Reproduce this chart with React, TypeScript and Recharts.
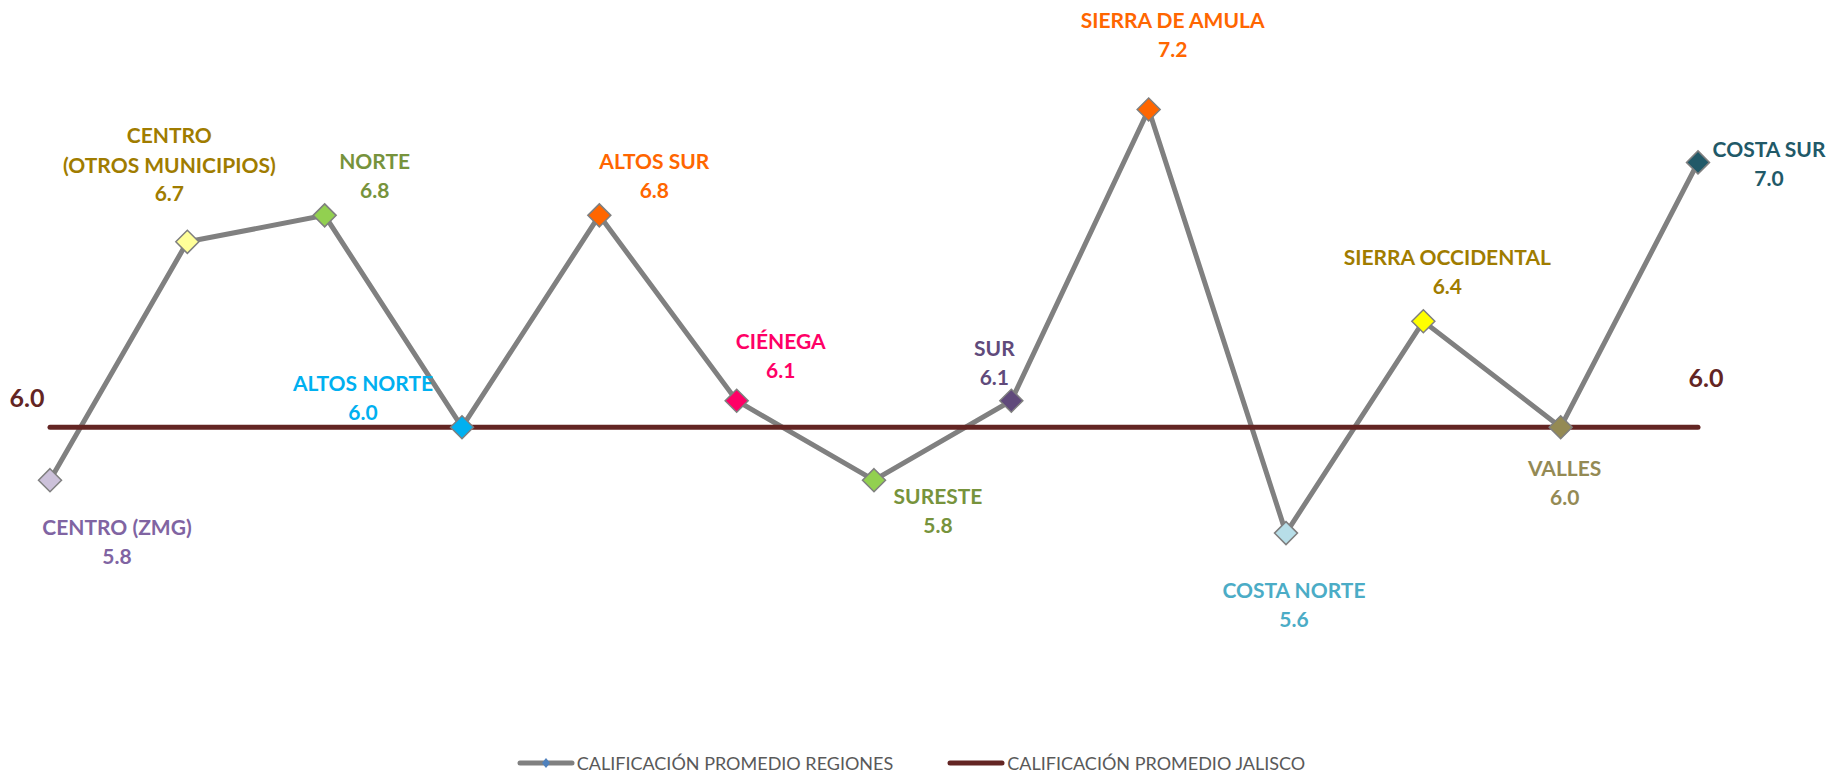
import { LineChart, Line, XAxis, YAxis, Legend } from 'recharts'

document.body.style.margin = '0'

const regiones = [
  'CENTRO (ZMG)',
  'CENTRO\n(OTROS MUNICIPIOS)',
  'NORTE',
  'ALTOS NORTE',
  'ALTOS SUR',
  'CIÉNEGA',
  'SURESTE',
  'SUR',
  'SIERRA DE AMULA',
  'COSTA NORTE',
  'SIERRA OCCIDENTAL',
  'VALLES',
  'COSTA SUR',
]
const calificacionRegiones = [5.8, 6.7, 6.8, 6.0, 6.8, 6.1, 5.8, 6.1, 7.2, 5.6, 6.4, 6.0, 7.0]
const calificacionJalisco = 6.0

// label text colour and marker fill per region
const textColors = [
  '#8064A2', '#A07C00', '#77933C', '#00B0F0', '#FF6600', '#FF0066', '#77933C',
  '#604A7B', '#FF6600', '#4BACC6', '#A07C00', '#948A54', '#215968',
]
const markerColors = [
  '#CCC1DA', '#FFFF99', '#92D050', '#00B0F0', '#FF6600', '#FF0066', '#92D050',
  '#604A7B', '#FF6600', '#B7DEE8', '#FFFF00', '#948A54', '#215968',
]
// label offset from the point [dx, dy of first line]
const labelOffsets = [
  [67, 46], [-18, -107], [50, -55], [-99, -45], [55, -55], [44, -60], [64, 15],
  [-17, -53], [24, -90], [8, 56], [24, -65], [4, 40], [71, -14],
]

const data = regiones.map((r, i) => ({
  region: r,
  regiones: calificacionRegiones[i],
  jalisco: calificacionJalisco,
}))

const FONT = 'Lato, "Open Sans", sans-serif'

const RegionDot = (props: any) => {
  const { cx, cy, index } = props
  if (cx == null || cy == null) return <g key={index} />
  const r = 11.5
  const [dx, dy] = labelOffsets[index]
  const lines = regiones[index].split('\n')
  const color = textColors[index]
  return (
    <g key={index}>
      <path
        d={`M${cx},${cy - r} L${cx + r},${cy} L${cx},${cy + r} L${cx - r},${cy} Z`}
        fill={markerColors[index]}
        stroke="#7F7F7F"
        strokeWidth={1.5}
      />
      {lines.map((l, j) => (
        <text key={j} x={cx + dx} y={cy + dy + j * 30} textAnchor="middle" dominantBaseline="central"
          fill={color} fontFamily={FONT} fontWeight={700} fontSize={21}>{l}</text>
      ))}
      <text x={cx + dx} y={cy + dy + lines.length * 29} textAnchor="middle" dominantBaseline="central"
        fill={color} fontFamily={FONT} fontWeight={700} fontSize={21}>
        {calificacionRegiones[index].toFixed(1)}
      </text>
    </g>
  )
}

const JaliscoDot = (props: any) => {
  const { cx, cy, index } = props
  const last = regiones.length - 1
  if (cx == null || (index !== 0 && index !== last)) return <g key={index} />
  const [dx, dy] = index === 0 ? [-23, -30] : [8, -50]
  return (
    <text key={index} x={cx + dx} y={cy + dy} textAnchor="middle" dominantBaseline="central"
      fill="#632523" fontFamily={FONT} fontWeight={700} fontSize={25}>
      {calificacionJalisco.toFixed(1)}
    </text>
  )
}

const renderLegend = () => (
  <div style={{ display: 'flex', justifyContent: 'center', gap: 54, fontFamily: FONT, fontSize: 18, color: '#595959' }}>
    <div style={{ display: 'flex', alignItems: 'center' }}>
      <svg width={58} height={14}>
        <line x1={3} y1={7} x2={55} y2={7} stroke="#808080" strokeWidth={5} strokeLinecap="round" />
        <path d="M29,2 L33,7 L29,12 L25,7 Z" fill="#4F81BD" />
      </svg>
      <span style={{ marginLeft: 2 }}>CALIFICACIÓN PROMEDIO REGIONES</span>
    </div>
    <div style={{ display: 'flex', alignItems: 'center' }}>
      <svg width={58} height={14}>
        <line x1={3} y1={7} x2={55} y2={7} stroke="#632523" strokeWidth={5} strokeLinecap="round" />
      </svg>
      <span style={{ marginLeft: 2 }}>CALIFICACIÓN PROMEDIO JALISCO</span>
    </div>
  </div>
)

export default function App() {
  return (
    <div style={{ width: 1830, height: 776, background: '#fff' }}>
      <LineChart width={1830} height={776} data={data} margin={{ top: 30, right: 132, bottom: 60, left: 50 }}>
        <XAxis dataKey="region" hide />
        <YAxis hide domain={[5, 7.5]} />
        <Legend verticalAlign="bottom" height={24} content={renderLegend}
          wrapperStyle={{ bottom: 0, left: 0, width: 1822 }} />
        <Line dataKey="regiones" stroke="#808080" strokeWidth={5} dot={RegionDot}
          activeDot={false} isAnimationActive={false} />
        <Line dataKey="jalisco" stroke="#632523" strokeWidth={5} strokeLinecap="round" dot={JaliscoDot}
          activeDot={false} isAnimationActive={false} />
      </LineChart>
    </div>
  )
}
